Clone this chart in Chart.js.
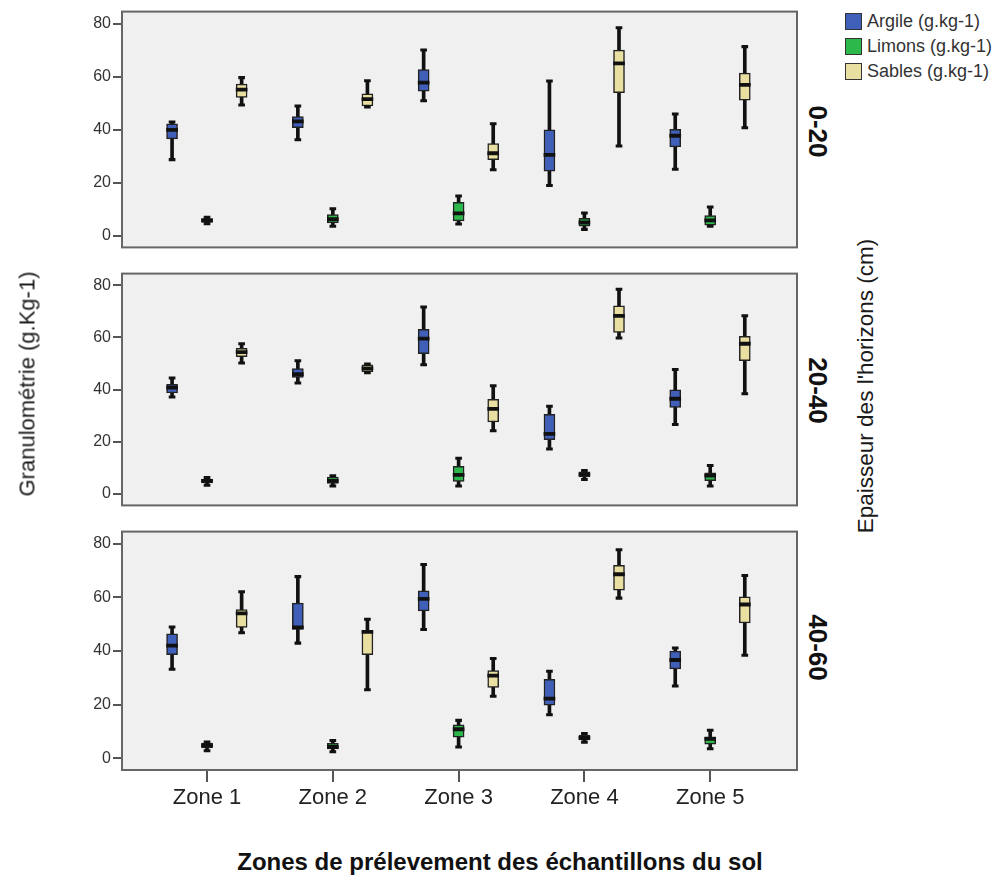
<!DOCTYPE html>
<html>
<head>
<meta charset="utf-8">
<script src="https://cdn.jsdelivr.net/npm/chart.js@4.4.1/dist/chart.umd.min.js"></script>
<style>
  body { margin: 0; background: #fff; font-family: 'Liberation Sans', Arial, sans-serif; color: #222; }
  #wrap { position: relative; width: 1000px; height: 881px; overflow: hidden; }
  canvas { position: absolute; left: 0; }
  .rot { position: absolute; white-space: nowrap; transform-origin: center center; }
  .legend { position: absolute; left: 845px; top: 9px; font-size: 18px; color: #333; }
  .legend div { display: flex; align-items: center; height: 25px; }
  .legend span.sw { display: inline-block; width: 15px; height: 15px; border: 1.5px solid #333; margin-right: 5px; }
</style>
</head>
<body>
<div id="wrap">
  <canvas id="p1" width="800" height="259" style="top:0px"></canvas>
  <canvas id="p2" width="800" height="255" style="top:262px"></canvas>
  <canvas id="p3" width="800" height="320" style="top:520px"></canvas>

  <div class="legend">
    <div><span class="sw" style="background:#3F5FB8"></span>Argile (g.kg-1)</div>
    <div><span class="sw" style="background:#2DB84B"></span>Limons (g.kg-1)</div>
    <div><span class="sw" style="background:#E8DFA0"></span>Sables (g.kg-1)</div>
  </div>

  <div id="ytitle" class="rot" style="font-size:22px;color:#1a1a1a">Granulométrie (g.Kg-1)</div>
  <div id="rtitle" class="rot" style="font-size:22.5px;color:#1a1a1a">Epaisseur des l'horizons (cm)</div>
  <div id="h1" class="rot" style="font-size:26px;font-weight:bold;color:#111">0-20</div>
  <div id="h2" class="rot" style="font-size:26px;font-weight:bold;color:#111">20-40</div>
  <div id="h3" class="rot" style="font-size:26px;font-weight:bold;color:#111">40-60</div>
  <div id="xtitle" style="position:absolute;left:0;width:1000px;top:848px;text-align:center;font-size:24px;font-weight:bold;color:#111">Zones de prélevement des échantillons du sol</div>
</div>

<script>
const zones = ['Zone 1', 'Zone 2', 'Zone 3', 'Zone 4', 'Zone 5'];
const horizons = ['0-20', '20-40', '40-60'];
const yTicks = [0, 20, 40, 60, 80];

// [min, q1, mediane, q3, max] par zone
const argile_0_20 = [[28.7, 36.5, 39.9, 42.2, 42.9], [36.2, 40.7, 43.1, 44.9, 48.9], [50.9, 54.5, 57.7, 62.6, 70.0], [18.9, 24.3, 30.5, 39.9, 58.3], [25.1, 33.5, 37.7, 40.1, 45.9]];
const limons_0_20 = [[4.5, 5.0, 5.8, 6.5, 7.0], [3.6, 4.8, 6.2, 8.0, 10.2], [4.4, 5.6, 8.4, 12.6, 15.0], [2.4, 3.6, 5.0, 6.6, 8.6], [3.6, 4.0, 5.8, 7.6, 10.8]];
const sables_0_20 = [[49.3, 52.1, 55.1, 57.2, 59.6], [48.5, 48.9, 51.5, 53.5, 58.4], [24.9, 28.7, 31.1, 34.7, 42.2], [33.8, 53.9, 65.0, 70.0, 78.4], [40.7, 51.1, 56.9, 61.3, 71.3]];

const argile_20_40 = [[37.2, 38.7, 40.8, 42.0, 44.5], [42.5, 44.7, 45.9, 48.1, 51.1], [49.5, 53.8, 59.6, 63.1, 71.7], [17.2, 20.8, 23.0, 30.5, 33.6], [26.6, 33.2, 36.5, 39.9, 47.7]];
const limons_20_40 = [[3.3, 4.2, 5.0, 5.7, 6.3], [3.0, 4.0, 5.0, 6.5, 7.0], [3.0, 4.8, 7.3, 10.6, 13.7], [5.5, 6.5, 7.5, 8.5, 9.0], [3.0, 5.1, 7.0, 8.1, 10.9]];
const sables_20_40 = [[50.2, 52.6, 54.4, 55.8, 57.6], [46.5, 46.8, 48.1, 49.5, 49.8], [24.2, 27.6, 32.6, 36.3, 41.5], [59.8, 61.9, 68.3, 72.1, 78.5], [38.4, 51.1, 57.6, 60.4, 68.3]];

const argile_40_60 = [[33.2, 38.6, 42.0, 46.4, 48.9], [42.9, 48.0, 48.8, 57.8, 67.7], [48.0, 54.9, 59.4, 62.4, 72.2], [16.2, 19.8, 22.2, 29.4, 32.4], [26.9, 33.3, 36.6, 39.9, 41.1]];
const limons_40_60 = [[2.8, 3.8, 4.8, 5.6, 6.0], [2.4, 3.5, 4.2, 5.5, 6.6], [4.2, 7.8, 10.8, 12.4, 14.1], [6.0, 6.8, 7.6, 8.6, 9.2], [3.5, 5.2, 7.2, 8.0, 10.4]];
const sables_40_60 = [[46.8, 48.8, 54.0, 55.4, 62.1], [25.5, 38.6, 47.1, 47.6, 51.8], [23.1, 26.4, 30.8, 32.7, 37.2], [59.7, 62.7, 68.6, 71.9, 77.7], [38.4, 50.4, 57.3, 60.2, 68.1]];

const COLORS = { argile: '#3F5FB8', limons: '#2DB84B', sables: '#E8DFA0' };
const FONT = "'Liberation Sans', Arial, sans-serif";

// fond gris + cadre autour de la zone de tracé
const framePlugin = {
  id: 'frame',
  beforeDraw(chart) {
    const { ctx, chartArea: a } = chart;
    ctx.save();
    ctx.fillStyle = '#F0F0F0';
    ctx.fillRect(a.left, a.top, a.width, a.height);
    ctx.restore();
  },
  afterDraw(chart) {
    const { ctx, chartArea: a } = chart;
    ctx.save();
    ctx.strokeStyle = '#666';
    ctx.lineWidth = 2;
    ctx.strokeRect(a.left, a.top, a.width, a.height);
    ctx.restore();
  }
};

// une boite = moustache + boite + mediane + petits traits aux extremites
function boxSets(stats, offset, color) {
  const x = (i) => i + offset;
  return [
    { data: stats.map((s, i) => ({ x: x(i), y: [s[0], s[4]] })), backgroundColor: '#111', barThickness: 3, order: 4 },
    { data: stats.map((s, i) => ({ x: x(i), y: [s[1], s[3]] })), backgroundColor: color, borderColor: '#222', borderWidth: 1.5, barThickness: 11, order: 3 },
    { data: stats.map((s, i) => ({ x: x(i), y: [s[2] - 0.6, s[2] + 0.6] })), backgroundColor: '#111', barThickness: 11, order: 2 },
    {
      data: stats.flatMap((s, i) => [
        { x: x(i), y: [s[0] - 0.45, s[0] + 0.45] },
        { x: x(i), y: [s[4] - 0.45, s[4] + 0.45] }
      ]),
      backgroundColor: '#111', barThickness: 6, order: 2
    }
  ];
}

function makePanel(id, argile, limons, sables, showX, padTop, padBottom) {
  const datasets = [
    ...boxSets(argile, -0.278, COLORS.argile),
    ...boxSets(limons, 0, COLORS.limons),
    ...boxSets(sables, 0.275, COLORS.sables)
  ];
  new Chart(document.getElementById(id), {
    type: 'bar',
    data: { datasets },
    plugins: [framePlugin],
    options: {
      responsive: false,
      animation: false,
      events: [],
      layout: { padding: { top: padTop, bottom: padBottom, right: 3, left: 0 } },
      datasets: { bar: { grouped: false, borderSkipped: false } },
      plugins: { legend: { display: false }, tooltip: { enabled: false } },
      scales: {
        x: {
          type: 'linear',
          min: -0.676,
          max: 4.69,
          offset: false,
          display: showX,
          afterBuildTicks: (s) => { s.ticks = zones.map((z, i) => ({ value: i })); },
          afterFit: (s) => { s.height = showX ? 70 : 0; },
          ticks: {
            callback: (v, i) => zones[i],
            font: { family: FONT, size: 22 },
            color: '#222',
            padding: 3,
            maxRotation: 0,
            autoSkip: false
          },
          grid: { drawOnChartArea: false, offset: false, tickLength: 12, color: '#555', lineWidth: 2 },
          border: { display: false }
        },
        y: {
          min: -4.4,
          max: 84.5,
          afterBuildTicks: (s) => { s.ticks = yTicks.map((v) => ({ value: v })); },
          afterFit: (s) => { s.width = 122; },
          ticks: { font: { family: FONT, size: 16 }, color: '#333', padding: 2 },
          grid: { drawOnChartArea: false, tickLength: 9, color: '#555', lineWidth: 2 },
          border: { display: false }
        }
      }
    }
  });
}

makePanel('p1', argile_0_20, limons_0_20, sables_0_20, false, 8, 4);
makePanel('p2', argile_20_40, limons_20_40, sables_20_40, false, 4, 4);
makePanel('p3', argile_40_60, limons_40_60, sables_40_60, true, 4, 0);

// textes tournés, centrés sur un point
function placeRot(id, cx, cy, deg) {
  const el = document.getElementById(id);
  const w = el.offsetWidth, h = el.offsetHeight;
  el.style.left = (cx - w / 2) + 'px';
  el.style.top = (cy - h / 2) + 'px';
  el.style.transform = 'rotate(' + deg + 'deg)';
}
placeRot('ytitle', 27, 384, -90);
placeRot('rtitle', 866, 386, -90);
placeRot('h1', 817, 131, 90);
placeRot('h2', 817, 390, 90);
placeRot('h3', 817, 647, 90);
</script>
</body>
</html>
